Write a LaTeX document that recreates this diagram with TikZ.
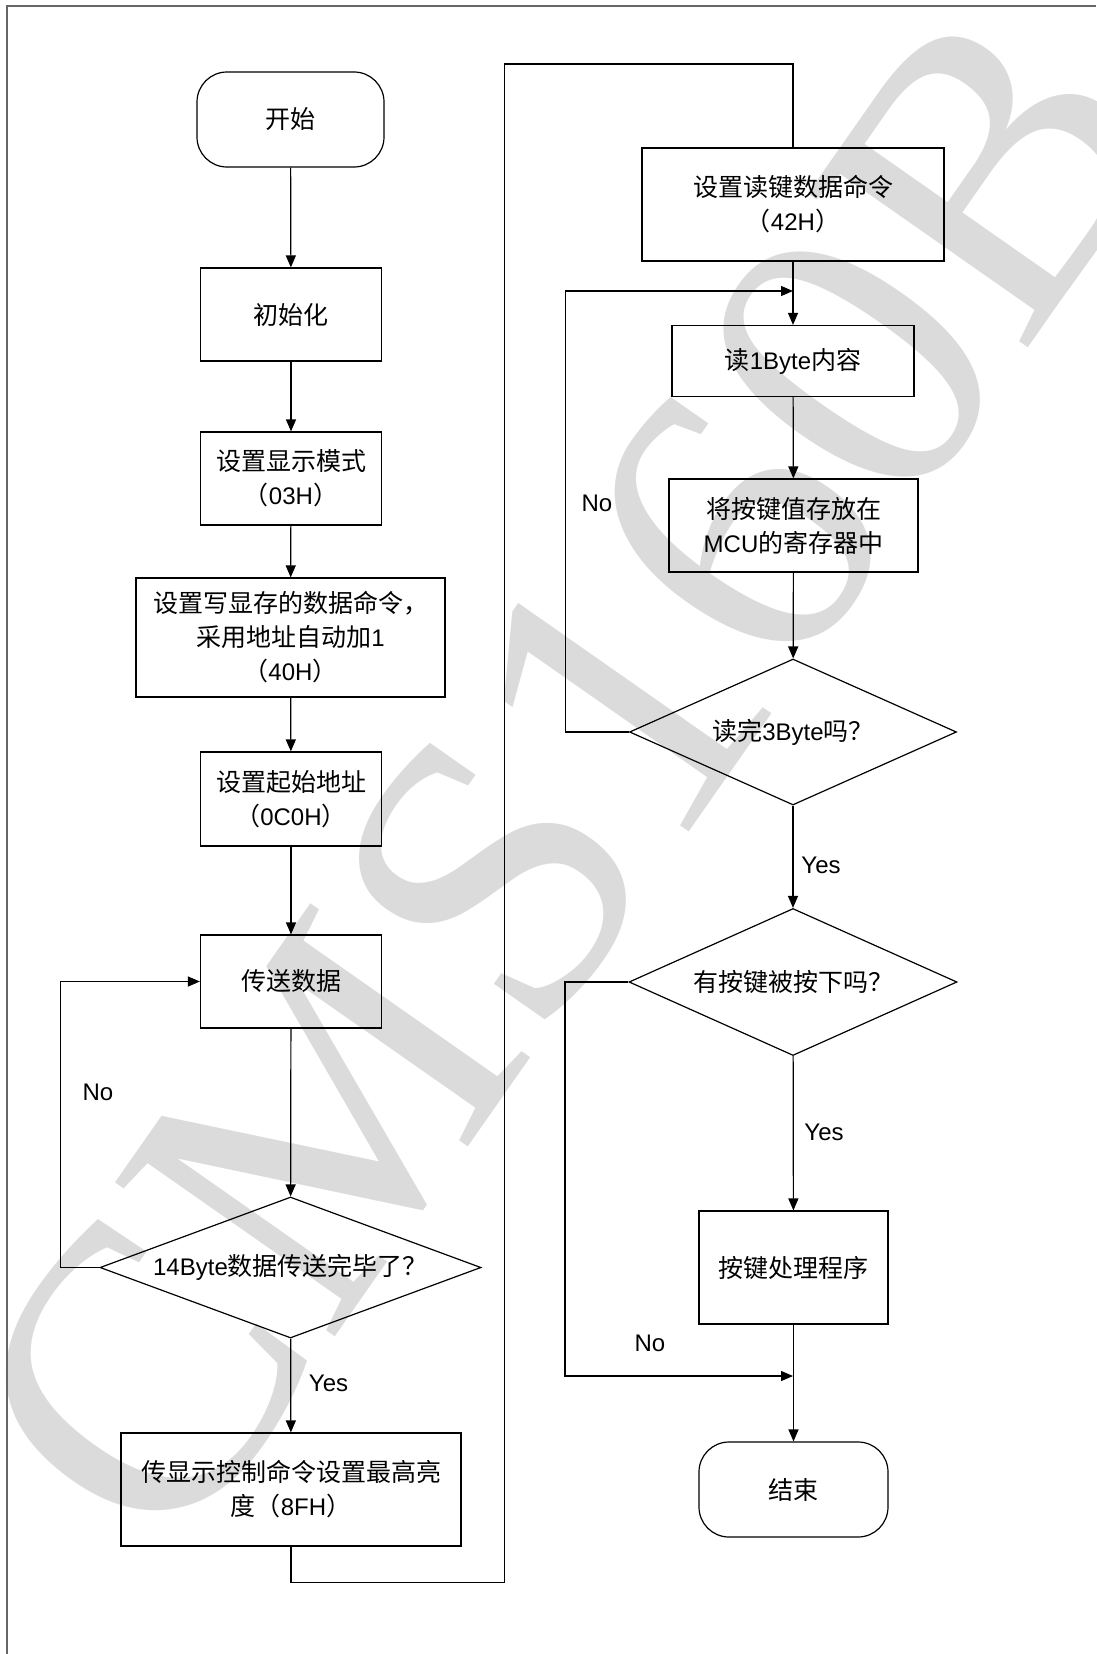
\documentclass[tikz,border=0pt]{standalone}
\usepackage{fontspec}
\setmainfont{Liberation Sans}
\newfontfamily\cjk{Noto Sans CJK SC}
\newfontfamily\wmfont{Liberation Serif}
\usetikzlibrary{arrows.meta,shapes.geometric,calc}
\definecolor{wm}{RGB}{219,219,219}
\newcommand{\zh}[1]{{\cjk\fontsize{25}{34}\selectfont #1}}
\begin{document}
\begin{tikzpicture}[x=1pt,y=-1pt,
  every node/.style={font=\fontsize{24}{34}\selectfont, align=center, inner sep=0pt},
  box/.style={draw, line width=1.2pt, rectangle},
  term/.style={draw, line width=1.2pt, rectangle, rounded corners=30pt},
  dec/.style={draw, line width=1.2pt, diamond},
  conn/.style={line width=1.2pt, -{Triangle[length=12pt,width=10pt]}},
  plain/.style={line width=1.2pt},
  lbl/.style={font=\fontsize{24}{28}\selectfont},
  frame/.style={line width=1.5pt, draw=black!60}
]
\useasboundingbox (0,0) rectangle (1096,1654);
% watermark
\node[rotate=55, text=wm, font=\wmfont\fontsize{410}{410}\selectfont] (wmark) at (565,775) {CMS160B};
% frame
\draw[frame] (7,1654) -- (7,6) -- (1096,6);

% left column
\node[term, minimum width=187pt, minimum height=95pt] (start) at (290.5,119.5) {\zh{开始}};
\node[box, minimum width=181pt, minimum height=93pt] (init) at (291,314.5) {\zh{初始化}};
\node[box, minimum width=181pt, minimum height=93pt] (mode) at (291,478.5) {\zh{设置显示模式}\\\zh{（}03H\zh{）}};
\node[box, minimum width=309pt, minimum height=119pt] (write) at (290.5,637.5) {\zh{设置写显存的数据命令，}\\\zh{采用地址自动加}1\\\zh{（}40H\zh{）}};
\node[box, minimum width=181pt, minimum height=94pt] (addr) at (291,799) {\zh{设置起始地址}\\\zh{（}0C0H\zh{）}};
\node[box, minimum width=181pt, minimum height=93pt] (send) at (291,981.5) {\zh{传送数据}};
\node[dec, minimum width=381pt, minimum height=141pt, aspect=2.7] (d1) at (290.5,1267.5) {14Byte\zh{数据传送完毕了？}};
\node[box, minimum width=340pt, minimum height=113pt] (bright) at (291,1489.5) {\zh{传显示控制命令设置最高亮}\\\zh{度（}8FH\zh{）}};

% right column
\node[box, minimum width=302pt, minimum height=113pt] (readcmd) at (793,204.5) {\zh{设置读键数据命令}\\\zh{（}42H\zh{）}};
\node[box, minimum width=242pt, minimum height=71pt] (read1) at (793,361) {\zh{读}1Byte\zh{内容}};
\node[box, minimum width=249pt, minimum height=93pt] (store) at (793.5,525.5) {\zh{将按键值存放在}\\MCU\zh{的寄存器中}};
\node[dec, minimum width=327pt, minimum height=146pt, aspect=2.24] (d2) at (793,732) {\zh{读完}3Byte\zh{吗？}};
\node[dec, minimum width=328pt, minimum height=147pt, aspect=2.23] (d3) at (793,982) {\zh{有按键被按下吗？}};
\node[box, minimum width=189pt, minimum height=113pt] (keyproc) at (793.5,1267.5) {\zh{按键处理程序}};
\node[term, minimum width=189pt, minimum height=95pt] (end) at (793.5,1489.5) {\zh{结束}};

% junctions
\coordinate (j1) at (793,291);
\coordinate (j2) at (793,1376);

% labels
\node[lbl] (no1) at (98,1092) {No};
\node[lbl] (yes1) at (328.5,1383) {Yes};
\node[lbl] (no2) at (597,503) {No};
\node[lbl] (yes2) at (821,865) {Yes};
\node[lbl] (yes3) at (824,1132) {Yes};
\node[lbl] (no3) at (650,1343) {No};

% left connectors
\draw[conn] (start) -- (init);
\draw[conn] (init) -- (mode);
\draw[conn] (mode) -- (write);
\draw[conn] (write) -- (addr);
\draw[conn] (addr) -- (send);
\draw[conn] (send) -- (d1);
\draw[conn] (d1) -- (bright);
\draw[conn] (d1.west) -- ++(-39,0) |- (send.west);
\draw[plain] (bright.south) -- ++(0,36) -| (504.6,64) -| (readcmd.north);

% right connectors
\draw[conn] (readcmd) -- (read1);
\draw[conn] (d2.west) -- ++(-63.5,0) |- (j1);
\draw[conn] (read1) -- (store);
\draw[conn] (store) -- (d2);
\draw[conn] (d2) -- (d3);
\draw[conn] (d3) -- (keyproc);
\draw[conn] (keyproc) -- (end);
\draw[conn] (d3.west) -- ++(-63.5,0) |- (j2);
\end{tikzpicture}
\end{document}
